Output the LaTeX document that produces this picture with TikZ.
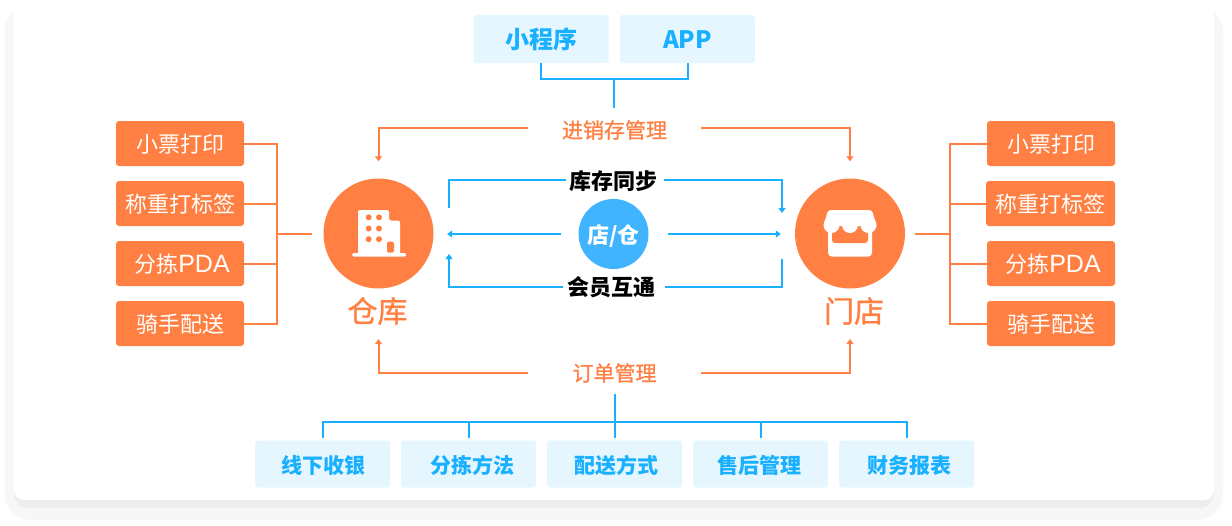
\documentclass[tikz,border=0pt]{standalone}
\usepackage{fontspec}
\setmainfont{Noto Sans CJK SC}
\newfontfamily\medfont[FakeBold=1]{Noto Sans CJK SC}
\newfontfamily\latinfont{Liberation Sans}
\usetikzlibrary{arrows.meta,calc}
\definecolor{orangeC}{HTML}{FF8042}
\definecolor{blueC}{HTML}{18B0FF}
\definecolor{paleB}{HTML}{E6F6FF}
\definecolor{hubB}{HTML}{40B4FF}
\newcommand{\pdatxt}{\hspace*{4pt}分拣{\latinfont\fontsize{25}{26}\selectfont PDA}}
\tikzset{
  x=1pt,y=-1pt,
  obox/.style={draw=none,fill=orangeC,rounded corners=3pt,minimum width=128pt,minimum height=45pt,inner sep=0pt,text=white,text height=18pt,text depth=0pt,font=\fontsize{22}{24}\selectfont},
  bbox/.style={draw=none,fill=paleB,rounded corners=3pt,minimum width=135pt,minimum height=47pt,inner sep=0pt,text=blueC,text height=18pt,text depth=0pt,font=\bfseries\fontsize{21}{24}\selectfont},
  tbox/.style={bbox,minimum height=48pt,text height=18pt,font=\bfseries\fontsize{24}{26}\selectfont},
  oline/.style={draw=orangeC,line width=2pt},
  bline/.style={draw=blueC,line width=2pt},
  oarrow/.style={oline,-{Triangle[length=5pt,width=7pt]}},
  barrow/.style={bline,-{Triangle[length=5pt,width=7pt]}},
  hub/.style={circle,fill=orangeC,minimum size=110pt,inner sep=0pt},
  olabel/.style={text=orangeC,inner sep=0pt,minimum height=26pt,minimum width=173pt,font=\medfont\fontsize{21}{24}\selectfont},
  blabel/.style={text=black,inner sep=0pt,minimum height=26pt,font=\bfseries\fontsize{22}{24}\selectfont},
  plabel/.style={text=orangeC,inner sep=0pt,font=\medfont\fontsize{30}{32}\selectfont},
}
\begin{document}
\begin{tikzpicture}
\useasboundingbox (0,0) rectangle (1232,525);
\fill[white] (0,0) rectangle (1232,525);
% card and its soft shadow
\fill[black!3,rounded corners=26pt] (4.5,6) rectangle (1223,520);
\fill[black!7,rounded corners=14pt] (14,300) rectangle (1214,508);
\fill[white,rounded corners=10pt] (14,-20) rectangle (1214,500);

% hubs
\node[hub] (wh) at (378.5,233.5) {};
\node[hub] (st) at (850,233.5) {};
\node[circle,fill=hubB,minimum size=70pt,inner sep=0pt,text=white,text height=19pt,text depth=0pt,font=\bfseries\fontsize{22}{24}\selectfont] (ctr) at (613.5,234) {店/仓};
\node[plabel] (whl) at (377.5,311) {仓库};
\node[plabel] (stl) at (854,311) {门店};

% building icon
\fill[white,rounded corners=2pt] (358,255) -- (358,210) -- (389,210) -- (389,220.5) -- (400,220.5) -- (400,255) -- cycle;
\fill[white,rounded corners=1.5pt] (352,253) rectangle (406,256.5);
\foreach \xa in {368.7,379}\foreach \ya in {217.3,228.5,239.2}
  \fill[orangeC] (\xa,\ya) circle (3pt);
\fill[orangeC,rounded corners=1.5pt] (387,241.7) rectangle (394,252.7);

% store icon
\fill[white,rounded corners=4pt] (828,222) rectangle (872,256.7);
\fill[orangeC,rounded corners=3pt] (832,222) rectangle (868,243);
\fill[white,rounded corners=3pt] (823.5,226) -- (828,210) -- (872,210) -- (876.5,226) -- cycle;
\fill[white] (831.5,225) circle (8pt);
\fill[white] (850,225) circle (8pt);
\fill[white] (868.5,225) circle (8pt);

% top
\node[tbox] (mini) at (541,39) {小程序};
\node[tbox] (app) at (687.5,39) {APP};
\node[olabel] (jxc) at (614.5,130) {进销存管理};
\coordinate (tj) at (614,79);
\draw[bline] (mini.south) |- (tj);
\draw[bline] (app.south) |- (tj);
\draw[bline,shorten >=9pt] (tj) -- (jxc.north -| tj);
\draw[oarrow,shorten >=17pt] (jxc.west |- 0,127.5) -| (wh.north);
\draw[oarrow,shorten >=17pt] (jxc.east |- 0,127.5) -| (st.north);

% centre
\node[blabel,minimum width=95pt] (sync) at (613.5,181) {库存同步};
\node[blabel,minimum width=103pt] (mem) at (611.5,287) {会员互通};
\coordinate (wu) at (449,208);
\coordinate (su) at (782,213);
\coordinate (wd) at (449,254);
\coordinate (sd) at (782,259);
\draw[bline] (sync.west |- 0,180) -| (wu);
\draw[barrow,shorten <=3pt] (sync.east |- 0,180) -| (su);
\path (ctr.west) ++(-17.5,0) coordinate (cl) (wh.east) ++(13.5,0) coordinate (wl);
\draw[barrow] (cl) -- (wl |- cl);
\path (ctr.east) ++(19.5,0) coordinate (cr) (st.west) ++(-14,0) coordinate (sr);
\draw[barrow] (cr) -- (sr |- cr);
\draw[barrow,shorten <=-3pt] (mem.west) -| (wd);
\draw[bline,shorten <=2pt] (mem.east) -| (sd);

% bottom
\node[olabel] (ord) at (614.5,373) {订单管理};
\draw[oarrow,shorten >=14pt] (ord.west) -| (whl.south -| wh);
\draw[oarrow,shorten >=14pt] (ord.east) -| (stl.south -| st);
\node[bbox] (b1) at (322.5,464) {\hspace*{1pt}线下收银};
\node[bbox] (b2) at (468.5,464) {\hspace*{8pt}分拣方法};
\node[bbox] (b3) at (614.5,464) {\hspace*{3pt}配送方式};
\node[bbox] (b4) at (760.5,464) {售后管理\hspace*{3pt}};
\node[bbox] (b5) at (906.5,464) {\hspace*{5pt}财务报表};
\coordinate (bj) at (614.5,422);
\draw[bline,shorten <=8pt] (ord.south) -- (bj);
\draw[bline,shorten <=2pt] (b1.north) |- (bj);
\draw[bline,shorten <=2pt] (b2.north) |- (bj);
\draw[bline,shorten <=2pt] (b3.north) -- (bj);
\draw[bline,shorten <=2pt] (b4.north) |- (bj);
\draw[bline,shorten <=2pt] (b5.north) |- (bj);

% left tools
\node[obox] (l1) at (180,143.5) {小票打印};
\node[obox] (l2) at (180,203.5) {称重打标签};
\node[obox] (l3) at (180,263.5) {\pdatxt};
\node[obox] (l4) at (180,323.5) {骑手配送};
\coordinate (lj) at (277,233.5);
\draw[oline] (l1.east) -| (lj);
\draw[oline] (l2.east) -| (lj);
\draw[oline] (l3.east) -| (lj);
\draw[oline] (l4.east) -| (lj);
\draw[oline,shorten >=11pt] (lj) -- (wh.west);

% right tools
\node[obox] (r1) at (1051,143.5) {小票打印};
\node[obox,minimum width=129pt] (r2) at (1050.5,203.5) {称重打标签};
\node[obox] (r3) at (1051,263.5) {\pdatxt};
\node[obox] (r4) at (1051,323.5) {骑手配送};
\coordinate (rj) at (950,233.5);
\draw[oline] (r1.west) -| (rj);
\draw[oline] (r2.west) -| (rj);
\draw[oline] (r3.west) -| (rj);
\draw[oline] (r4.west) -| (rj);
\draw[oline,shorten >=10pt] (rj) -- (st.east);
\end{tikzpicture}
\end{document}
